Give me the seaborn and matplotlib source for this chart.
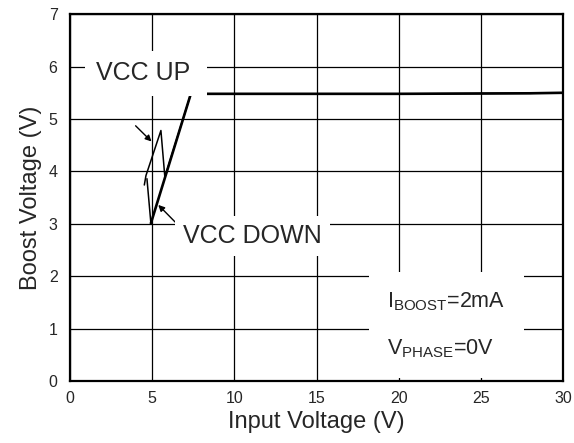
import matplotlib
matplotlib.use("Agg")
import matplotlib.pyplot as plt
import seaborn as sns

# data
up_vin = [4.52, 4.62, 5.53, 5.77, 7.35, 15, 20, 28, 30]
up_vboost = [3.74, 3.92, 4.78, 3.89, 5.48, 5.48, 5.48, 5.49, 5.5]
down_vin = [30, 28, 20, 15, 7.35, 4.92, 4.68]
down_vboost = [5.5, 5.49, 5.48, 5.48, 5.48, 3.01, 3.86]

x_ticks = [0, 5, 10, 15, 20, 25, 30]
y_ticks = [0, 1, 2, 3, 4, 5, 6, 7]

sns.set_style("white")
plt.rcParams['font.family'] = ['Liberation Sans', 'DejaVu Sans']
plt.rcParams['mathtext.fontset'] = 'custom'
plt.rcParams['mathtext.rm'] = 'Liberation Sans'
plt.rcParams['mathtext.it'] = 'Liberation Sans'

fig, ax = plt.subplots(figsize=(5.74, 4.43), dpi=100)
fig.subplots_adjust(left=0.122, right=0.981, top=0.968, bottom=0.14)

# thin rising curve, thick falling curve (last segment thin)
sns.lineplot(x=up_vin, y=up_vboost, sort=False, estimator=None, color='black', linewidth=1.1, ax=ax, zorder=3)
sns.lineplot(x=down_vin[:-1], y=down_vboost[:-1], sort=False, estimator=None, color='black', linewidth=1.9, ax=ax, zorder=3)
sns.lineplot(x=down_vin[-2:], y=down_vboost[-2:], sort=False, estimator=None, color='black', linewidth=1.1, ax=ax, zorder=3)

ax.set_xlim(0, 30)
ax.set_ylim(0, 7)
ax.set_xticks(x_ticks)
ax.set_yticks(y_ticks)
ax.grid(True, color='black', linewidth=0.9)
ax.set_axisbelow(True)
ax.tick_params(length=0, labelsize=11.5)
ax.tick_params(axis='y', pad=9)
ax.tick_params(axis='x', pad=7)
for s in ax.spines.values():
    s.set_visible(True)
    s.set_color('black')
    s.set_linewidth(1.6)

ax.set_xlabel("Input Voltage (V)", fontsize=17, labelpad=4)
ax.set_ylabel("Boost Voltage (V)", fontsize=17, labelpad=5)

# labels with white boxes over the grid
ax.text(1.55, 5.87, "VCC UP ", fontsize=18, va='center', ha='left', zorder=5,
        bbox=dict(boxstyle='square,pad=0.42', fc='white', ec='none'))
ax.text(6.9, 2.76, "VCC DOWN", fontsize=18, va='center', ha='left', zorder=5,
        bbox=dict(boxstyle='square,pad=0.32', fc='white', ec='none'))
ax.text(19.3, 1.52, r"I$_{\rm BOOST}$=2mA", fontsize=15.5, va='center', ha='left', zorder=5,
        bbox=dict(boxstyle='square,pad=0.85', fc='white', ec='none'))
ax.text(19.3, 0.62, r"V$_{\rm PHASE}$=0V", fontsize=15.5, va='center', ha='left', zorder=5,
        bbox=dict(boxstyle='square,pad=0.85', fc='white', ec='none'))

arrow = dict(arrowstyle='-|>', color='black', lw=1.0, mutation_scale=9, shrinkA=0, shrinkB=0)
ax.annotate("", xy=(4.96, 4.57), xytext=(3.99, 4.87), arrowprops=arrow, zorder=4)
ax.annotate("", xy=(5.37, 3.36), xytext=(6.69, 2.94), arrowprops=arrow, zorder=4)

fig.savefig("out.png", dpi=100)
